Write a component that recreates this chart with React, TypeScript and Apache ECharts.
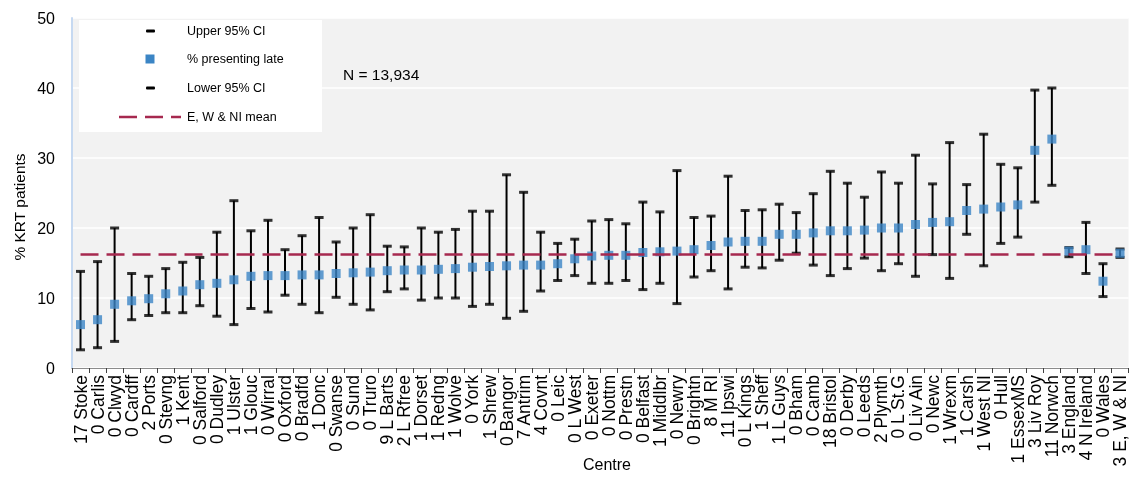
import React, { useEffect, useRef } from "react";
import * as echarts from "echarts";

const categories = [
  "17 Stoke", "0 Carlis", "0 Clwyd", "0 Cardff", "2 Ports", "0 Stevng", "1 Kent", "0 Salford", "0 Dudley", "1 Ulster",
  "1 Glouc", "0 Wirral", "0 Oxford", "0 Bradfd", "1 Donc", "0 Swanse", "0 Sund", "0 Truro", "9 L Barts", "2 L Rfree",
  "1 Dorset", "1 Redng", "1 Wolve", "0 York", "1 Shrew", "0 Bangor", "7 Antrim", "4 Covnt", "0 Leic", "0 L West",
  "0 Exeter", "0 Nottm", "0 Prestn", "0 Belfast", "1 Middlbr", "0 Newry", "0 Brightn", "8 M RI", "11 Ipswi", "0 L Kings",
  "1 Sheff", "1 L Guys", "0 Bham", "0 Camb", "18 Bristol", "0 Derby", "0 Leeds", "2 Plymth", "0 L St.G", "0 Liv Ain",
  "0 Newc", "1 Wrexm", "1 Carsh", "1 West NI", "0 Hull", "1 EssexMS", "3 Liv Roy", "11 Norwch", "3 England", "4 N Ireland",
  "0 Wales", "3 E, W & NI",
];

const pctLate = [
  6.2, 6.9, 9.1, 9.6, 9.9, 10.6, 11.0, 11.9, 12.1, 12.6,
  13.1, 13.2, 13.2, 13.3, 13.3, 13.5, 13.6, 13.7, 13.9, 14.0,
  14.0, 14.1, 14.2, 14.4, 14.5, 14.6, 14.7, 14.7, 14.9, 15.6,
  16.0, 16.1, 16.1, 16.5, 16.6, 16.7, 16.9, 17.5, 18.0, 18.1,
  18.1, 19.1, 19.1, 19.3, 19.6, 19.6, 19.7, 20.0, 20.0, 20.5,
  20.8, 20.9, 22.5, 22.7, 23.0, 23.3, 31.1, 32.7, 16.7, 16.9,
  12.4, 16.4,
];

const upperCI = [
  13.8, 15.2, 20.0, 13.5, 13.1, 14.2, 15.1, 15.8, 19.4, 23.9,
  19.6, 21.1, 16.9, 18.9, 21.5, 18.0, 20.0, 21.9, 17.4, 17.3,
  20.0, 19.4, 19.8, 22.4, 22.4, 27.6, 25.1, 19.4, 17.8, 18.4,
  21.0, 21.2, 20.6, 23.7, 22.3, 28.2, 21.5, 21.7, 27.4, 22.5,
  22.6, 23.4, 22.2, 24.9, 28.1, 26.4, 24.4, 28.0, 26.4, 30.4,
  26.3, 32.2, 26.2, 33.4, 29.1, 28.6, 39.7, 40.0, 17.2, 20.8,
  14.9, 17.0,
];

const lowerCI = [
  2.6, 2.9, 3.8, 6.9, 7.5, 7.9, 7.9, 8.9, 7.4, 6.2,
  8.5, 8.0, 10.4, 9.1, 7.9, 10.1, 9.1, 8.3, 10.9, 11.3,
  9.7, 10.0, 10.0, 8.8, 9.1, 7.1, 8.1, 11.0, 12.5, 13.2,
  12.1, 12.1, 12.5, 11.2, 12.1, 9.2, 13.0, 13.9, 11.3, 14.4,
  14.3, 15.4, 16.4, 14.7, 13.2, 14.2, 15.7, 13.9, 14.9, 13.1,
  16.2, 12.8, 19.1, 14.6, 17.8, 18.7, 23.7, 26.1, 15.9, 13.5,
  10.2, 15.8,
];

const overallMean = 16.3;
const yTicks = { min: 0, max: 50, interval: 10 };

const FONT = "Liberation Sans";
const BLUE = "#3b85c5";
const CRIMSON = "#a6294f";

export default function App() {
  const ref = useRef<HTMLDivElement>(null);

  useEffect(() => {
    if (!ref.current) return;
    const chart = echarts.init(ref.current, undefined, { renderer: "svg" });

    const errData = categories.map((_, i) => [i, lowerCI[i], upperCI[i]]);

    chart.setOption({
      animation: false,
      textStyle: { fontFamily: FONT, color: "#000" },
      grid: {
        left: 72,
        top: 18,
        width: 1059,
        height: 350,
        show: true,
        backgroundColor: "#f2f2f2",
        borderWidth: 0,
      },
      xAxis: {
        type: "category",
        data: categories,
        axisLine: { show: true, lineStyle: { color: "#8c8c8c", width: 1 } },
        axisTick: { show: true, length: 5, lineStyle: { color: "#404040" } },
        axisLabel: {
          interval: 0,
          rotate: 90,
          fontSize: 17.5,
          fontFamily: FONT,
          color: "#000",
          margin: 7,
        },
        splitLine: { show: false },
      },
      yAxis: {
        type: "value",
        min: yTicks.min,
        max: yTicks.max,
        interval: yTicks.interval,
        axisLine: { show: true, lineStyle: { color: "#c6d9f1", width: 2 } },
        axisTick: { show: false },
        axisLabel: { fontSize: 16, fontFamily: FONT, color: "#000", margin: 17 },
        splitLine: { show: true, lineStyle: { color: "#ffffff", width: 1.5 } },
      },
      series: [
        {
          type: "custom",
          name: "CI range",
          data: errData,
          encode: { x: 0, y: [1, 2] },
          z: 2,
          renderItem: (params: any, api: any) => {
            const idx = api.value(0);
            const lo = api.coord([idx, api.value(1)]);
            const hi = api.coord([idx, api.value(2)]);
            return {
              type: "line",
              shape: { x1: lo[0], y1: lo[1], x2: hi[0], y2: hi[1] },
              style: { stroke: "#000", lineWidth: 2 },
            };
          },
        },
        {
          type: "scatter",
          name: "Upper 95% CI",
          data: upperCI,
          symbol: "rect",
          symbolSize: [9, 3],
          itemStyle: { color: "#000" },
          z: 3,
        },
        {
          type: "scatter",
          name: "Lower 95% CI",
          data: lowerCI,
          symbol: "rect",
          symbolSize: [9, 3],
          itemStyle: { color: "#000" },
          z: 3,
        },
        {
          type: "scatter",
          name: "% presenting late",
          data: pctLate,
          symbol: "rect",
          symbolSize: 9,
          itemStyle: { color: BLUE },
          z: 4,
          markLine: {
            silent: true,
            symbol: "none",
            label: { show: false },
            lineStyle: { color: CRIMSON, width: 2.5, type: [18, 8] },
            data: [[{ coord: [0, overallMean] }, { coord: [categories.length - 1, overallMean] }]],
          },
        },
      ],
      graphic: [
        { type: "rect", z: 100, shape: { x: 79, y: 20, width: 243, height: 112 }, style: { fill: "#ffffff" } },
        { type: "rect", z: 101, shape: { x: 146, y: 29.5, width: 9, height: 3, r: 1 }, style: { fill: "#000" } },
        { type: "rect", z: 101, shape: { x: 145.5, y: 54.5, width: 9, height: 9 }, style: { fill: BLUE } },
        { type: "rect", z: 101, shape: { x: 146, y: 86.5, width: 9, height: 3, r: 1 }, style: { fill: "#000" } },
        {
          type: "line",
          z: 101,
          shape: { x1: 119, y1: 117, x2: 181, y2: 117 },
          style: { stroke: CRIMSON, lineWidth: 2.5, lineDash: [18, 8] },
        },
        { type: "text", z: 101, x: 187, y: 31, style: { text: "Upper 95% CI", fontSize: 12.5, fontFamily: FONT, fill: "#000", verticalAlign: "middle" } },
        { type: "text", z: 101, x: 187, y: 59, style: { text: "% presenting late", fontSize: 12.5, fontFamily: FONT, fill: "#000", verticalAlign: "middle" } },
        { type: "text", z: 101, x: 187, y: 88, style: { text: "Lower 95% CI", fontSize: 12.5, fontFamily: FONT, fill: "#000", verticalAlign: "middle" } },
        { type: "text", z: 101, x: 187, y: 117, style: { text: "E, W & NI mean", fontSize: 12.5, fontFamily: FONT, fill: "#000", verticalAlign: "middle" } },
        { type: "text", z: 101, x: 343, y: 74, style: { text: "N = 13,934", fontSize: 15.5, fontFamily: FONT, fill: "#000", verticalAlign: "middle" } },
        {
          type: "text",
          z: 101,
          x: 19,
          y: 207,
          rotation: Math.PI / 2,
          style: { text: "% KRT patients", fontSize: 15.5, fontFamily: FONT, fill: "#000", align: "center", verticalAlign: "middle" },
        },
        { type: "text", z: 101, x: 607, y: 464, style: { text: "Centre", fontSize: 16, fontFamily: FONT, fill: "#000", align: "center", verticalAlign: "middle" } },
      ],
    });

    return () => chart.dispose();
  }, []);

  return (
    <div
      ref={ref}
      style={{ position: "fixed", left: 0, top: 0, width: 1129, height: 477 }}
    />
  );
}
